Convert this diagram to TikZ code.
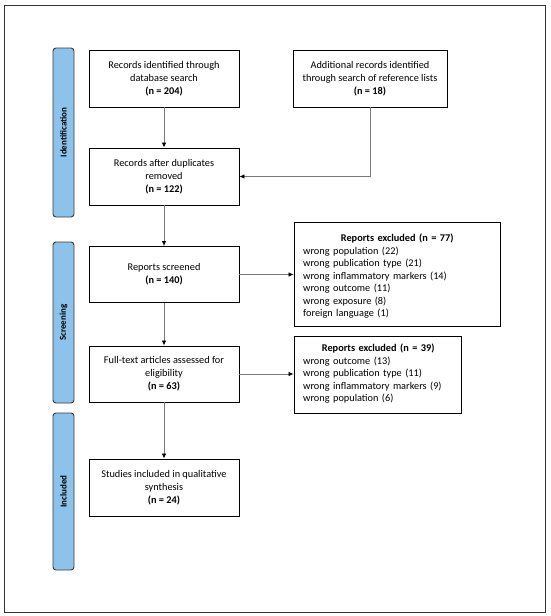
\documentclass[tikz,border=0pt]{standalone}
\usepackage{fontspec}
\setmainfont{Carlito}
\usetikzlibrary{arrows.meta,positioning}
\definecolor{sideblue}{RGB}{141,195,234}
\definecolor{sidegray}{RGB}{60,60,60}
\definecolor{linegray}{RGB}{120,120,120}
\tikzset{
  flowbox/.style={draw=black,line width=0.9pt,fill=white,align=center,font=\fontsize{10.3}{13}\selectfont,inner sep=2pt},
  exclframe/.style={draw=black,line width=0.9pt,fill=white},
  excltext/.style={align=left,font=\fontsize{10.3}{12.5}\selectfont,inner sep=0pt,anchor=north west},
  sidebar/.style={draw=sidegray,line width=0.9pt,fill=sideblue,rounded corners=3pt},
  sidelabel/.style={rotate=90,font=\fontsize{9}{10}\selectfont\bfseries},
  conn/.style={draw=linegray,line width=0.8pt,-{Latex[length=5pt,width=4.5pt,color=black]}},
}
\begin{document}
\begin{tikzpicture}[x=1pt,y=-1pt]
\useasboundingbox (0,0) rectangle (550,616);
\draw[line width=1pt,draw=black!80] (4,5) rectangle (545,612);

% side bars
\draw[sidebar] (53,48) rectangle (74,217);
\node[sidelabel] (lid) at (63.5,132.5) {Identification};
\draw[sidebar] (53,242) rectangle (74,403);
\node[sidelabel] (lsc) at (63.5,322.5) {Screening};
\draw[sidebar] (53,413) rectangle (74,570);
\node[sidelabel] (lin) at (63.5,491.5) {Included};

% main boxes
\node[flowbox,minimum width=150pt,minimum height=57pt] (b1) at (164,78.5)
  {Records identified through\\database search\\\textbf{(n = 204)}};
\node[flowbox,minimum width=154pt,minimum height=57pt] (b2) at (370,78.5)
  {Additional records identified\\through search of reference lists\\\textbf{(n = 18)}};
\node[flowbox,minimum width=150pt,minimum height=57pt] (b3) at (164,176.5)
  {Records after duplicates\\removed\\\textbf{(n = 122)}};
\node[flowbox,minimum width=150pt,minimum height=56pt] (b4) at (164,274.5)
  {Reports screened\\\textbf{(n = 140)}};
\node[flowbox,minimum width=150pt,minimum height=56pt] (b5) at (164,374)
  {Full-text articles assessed for\\eligibility\\\textbf{(n = 63)}};
\node[flowbox,minimum width=150pt,minimum height=57pt] (b6) at (164,487.5)
  {Studies included in qualitative\\synthesis\\\textbf{(n = 24)}};

% excluded boxes
\node[exclframe,minimum width=206pt,minimum height=104pt] (e1) at (397,274) {};
\node[excltext,text width=188pt] (e1t) at (303,234)
  {\centering\textbf{Reports excluded (n = 77)}\par
  \raggedright wrong population (22)\\
  wrong publication type (21)\\
  wrong inflammatory markers (14)\\
  wrong outcome (11)\\
  wrong exposure (8)\\
  foreign language (1)};
\node[exclframe,minimum width=167pt,minimum height=77pt] (e2) at (377.5,374.5) {};
\node[excltext,text width=150pt] (e2t) at (303,344)
  {\centering\textbf{Reports excluded (n = 39)}\par
  \raggedright wrong outcome (13)\\
  wrong publication type (11)\\
  wrong inflammatory markers (9)\\
  wrong population (6)};

% connectors
\draw[conn] (b1) -- (b3);
\coordinate (c2) at (b2.south |- b3.east);
\draw[conn] (b2.south) -- (c2) -- (b3.east);
\draw[conn] (b3) -- (b4);
\draw[conn] (b4) -- (b5);
\draw[conn] (b5) -- (b6);
\draw[conn] (b4.east) -- (b4.east -| e1.west);
\draw[conn] (b5.east) -- (b5.east -| e2.west);
\end{tikzpicture}
\end{document}
